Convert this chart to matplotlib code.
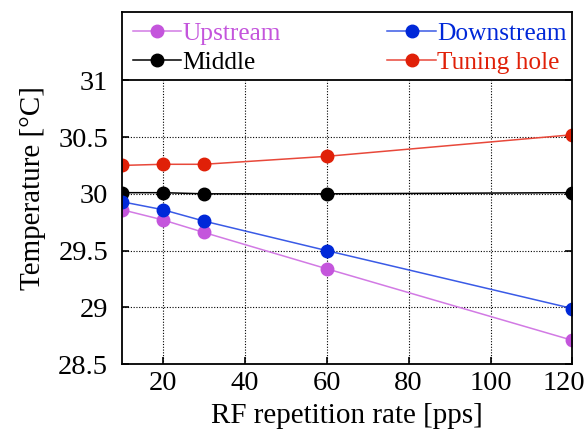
import numpy as np
import matplotlib.pyplot as plt
import matplotlib.transforms as mtransforms

plt.rcParams['font.family'] = ['Liberation Serif', 'DejaVu Serif']

# data
rate = [10, 20, 30, 60, 120]
upstream = [29.86, 29.77, 29.66, 29.34, 28.71]
downstream = [29.93, 29.86, 29.76, 29.50, 28.99]
middle = [30.01, 30.01, 30.00, 30.00, 30.01]
tuning = [30.25, 30.26, 30.26, 30.33, 30.52]

xticks = [20, 40, 60, 80, 100, 120]
yticks = [28.5, 29, 29.5, 30, 30.5, 31]

fig = plt.figure(figsize=(5.88, 4.32), dpi=100)
ax = fig.add_axes([0.2075, 0.157, 0.766, 0.815])

series = [
    ('Upstream', upstream, '#c455dc', '#d27ae4'),
    ('Middle', middle, 'black', 'black'),
    ('Downstream', downstream, '#0028d8', '#3a5ae6'),
    ('Tuning hole', tuning, '#e02008', '#e8483a'),
]
for lab, y, mc, lc in series:
    ax.plot(rate, y, '-', color=lc, lw=1.1, marker='o', ms=9,
            mfc=mc, mec=mc, label=lab)

ax.set_xlim(10, 120)
ax.set_ylim(28.5, 31.6)
ax.set_xticks(xticks)
ax.set_yticks(yticks)
ax.set_yticklabels(['28.5', '29', '29.5', '30', '30.5', '31'])

# grid only inside the data area (below the 31 line)
ax.vlines(xticks[:-1], 28.5, 31, colors='black', lw=0.8, ls=(0, (1, 1.5)), zorder=0)
ax.hlines(yticks[1:-1], 10, 120, colors='black', lw=0.8, ls=(0, (1, 1.5)), zorder=0)
ax.axhline(31, color='black', lw=1.3)

ax.tick_params(direction='in', length=5, width=1.2, labelsize=20.5,
               right=True)
ax.tick_params(axis='x', pad=5)
ax.tick_params(axis='y', pad=10)
for s in ax.spines.values():
    s.set_linewidth(1.3)

# pull the last x label inside the figure
lab120 = ax.get_xticklabels()[-1]
lab120.set_transform(lab120.get_transform() +
                     mtransforms.ScaledTranslation(-9 / 100, 0, fig.dpi_scale_trans))

ax.set_xlabel('RF repetition rate [pps]', fontsize=21, labelpad=5)
ax.set_ylabel('Temperature [°C]', fontsize=21, labelpad=9)

leg = ax.legend(ncol=2, loc='upper left', bbox_to_anchor=(-0.01, 1.015),
                frameon=False, fontsize=18.3, handlelength=1.9,
                handletextpad=0.05, columnspacing=4.2, labelspacing=0.25,
                borderaxespad=0.2)
for txt, (lab, y, mc, lc) in zip(leg.get_texts(), series):
    txt.set_color(mc)

fig.savefig('out.png', dpi=100)
